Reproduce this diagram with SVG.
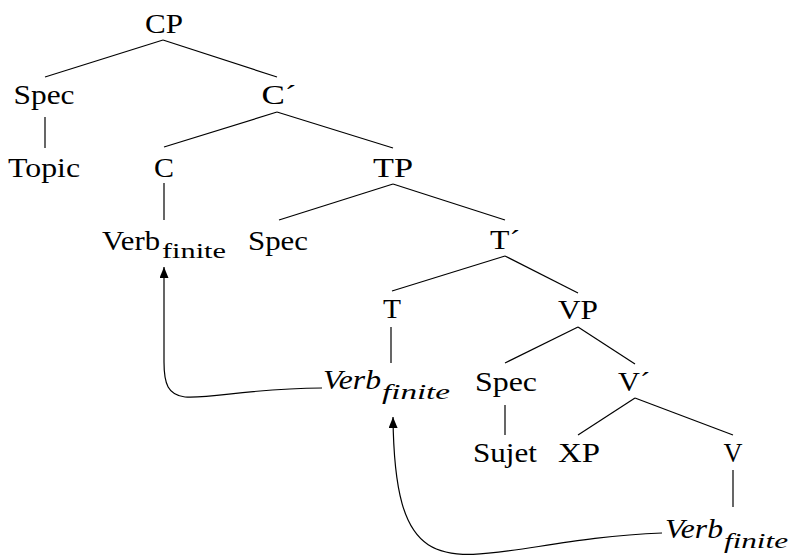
<svg xmlns="http://www.w3.org/2000/svg" width="796" height="555" viewBox="0 0 796 555">
<style>
.t{font-size:27px;text-anchor:middle}
.s{font-size:22px}
.v{font-size:27px}
.i{font-style:italic}
.e line{stroke:#000;stroke-width:1.2}
.a{fill:none;stroke:#000;stroke-width:1.2;marker-end:url(#ah)}
</style>
<defs>
<marker id="ah" markerUnits="userSpaceOnUse" markerWidth="12" markerHeight="10" refX="11" refY="4.5" orient="auto"><path d="M0,0 L11,4.5 L0,9 z" fill="#000"/></marker>
</defs>
<rect width="796" height="555" fill="#fff"/>
<g id="connectors" class="e">
<line x1="163" y1="40" x2="45" y2="77"/>
<line x1="163" y1="40" x2="277" y2="77"/>
<line x1="45" y1="117" x2="45" y2="148"/>
<line x1="277" y1="112" x2="164" y2="147"/>
<line x1="277" y1="112" x2="393" y2="148"/>
<line x1="164" y1="183" x2="164" y2="220"/>
<line x1="393" y1="184" x2="279" y2="220"/>
<line x1="393" y1="184" x2="505" y2="220"/>
<line x1="505" y1="256" x2="392" y2="291"/>
<line x1="505" y1="256" x2="578" y2="293"/>
<line x1="578" y1="327" x2="505" y2="363"/>
<line x1="578" y1="327" x2="635" y2="364"/>
<line x1="505" y1="405" x2="505" y2="435"/>
<line x1="635" y1="398" x2="578" y2="435"/>
<line x1="635" y1="398" x2="733" y2="435"/>
<line x1="391" y1="327" x2="391" y2="363"/>
<line x1="733" y1="470" x2="733" y2="507"/>
<path class="a" d="M322,388 C250,388 212,399 185,397 C168,395 164,384 164,362 L164,267"/>
<path class="a" d="M662,533 C470,540 395,620 393,417"/>
</g>
<g id="nodes" font-family="Liberation Serif, serif" fill="#000">
<g id="CP"><text class="t" x="164" y="33" textLength="38" lengthAdjust="spacingAndGlyphs">CP</text></g>
<g id="Spec1"><text class="t" x="44" y="104" textLength="61" lengthAdjust="spacingAndGlyphs">Spec</text></g>
<g id="Cbar"><text class="t" x="279" y="104" textLength="35" lengthAdjust="spacingAndGlyphs">C´</text></g>
<g id="Topic"><text class="t" x="44" y="177" textLength="72" lengthAdjust="spacingAndGlyphs">Topic</text></g>
<g id="C"><text class="t" x="164" y="177" textLength="20" lengthAdjust="spacingAndGlyphs">C</text></g>
<g id="TP"><text class="t" x="393" y="177" textLength="40" lengthAdjust="spacingAndGlyphs">TP</text></g>
<g id="VerbC"><text class="v" x="102" y="250" textLength="58" lengthAdjust="spacingAndGlyphs">Verb</text><text class="s" x="162" y="258" textLength="64" lengthAdjust="spacingAndGlyphs">finite</text></g>
<g id="Spec2"><text class="t" x="278" y="250" textLength="60" lengthAdjust="spacingAndGlyphs">Spec</text></g>
<g id="Tbar"><text class="t" x="505" y="249" textLength="30" lengthAdjust="spacingAndGlyphs">T´</text></g>
<g id="T"><text class="t" x="392" y="318" textLength="18" lengthAdjust="spacingAndGlyphs">T</text></g>
<g id="VP"><text class="t" x="578" y="319" textLength="40" lengthAdjust="spacingAndGlyphs">VP</text></g>
<g id="VerbT"><text class="v i" x="323" y="389" textLength="58" lengthAdjust="spacingAndGlyphs">Verb</text><text class="s i" x="382" y="399" textLength="68" lengthAdjust="spacingAndGlyphs">finite</text></g>
<g id="Spec3"><text class="t" x="506" y="391" textLength="62" lengthAdjust="spacingAndGlyphs">Spec</text></g>
<g id="Vbar"><text class="t" x="634" y="391" textLength="32" lengthAdjust="spacingAndGlyphs">V´</text></g>
<g id="Sujet"><text class="t" x="505" y="462" textLength="64" lengthAdjust="spacingAndGlyphs">Sujet</text></g>
<g id="XP"><text class="t" x="579" y="462" textLength="42" lengthAdjust="spacingAndGlyphs">XP</text></g>
<g id="V"><text class="t" x="733" y="462" textLength="19" lengthAdjust="spacingAndGlyphs">V</text></g>
<g id="VerbV"><text class="v i" x="665" y="538" textLength="58" lengthAdjust="spacingAndGlyphs">Verb</text><text class="s i" x="724" y="548" textLength="64" lengthAdjust="spacingAndGlyphs">finite</text></g>
</g>
</svg>
